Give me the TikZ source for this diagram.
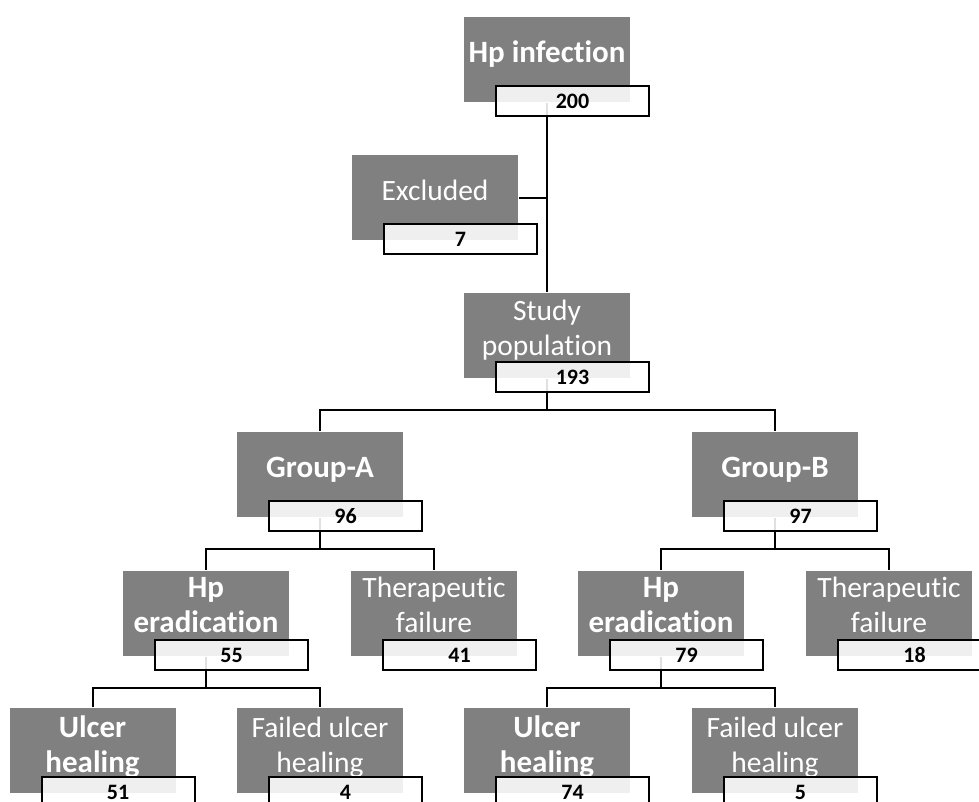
\documentclass[tikz,border=0pt]{standalone}
\usepackage{fontspec}
\setmainfont{Carlito}[Ligatures=NoCommon]
\begin{document}
\begin{tikzpicture}[
        x=1pt,
        y=-1pt,
        line width=2pt
    ]
    \definecolor{boxgray}{RGB}{128,128,128}
    \tikzset{
        graybox/.style = {rectangle, fill=boxgray, anchor=north, minimum width=166pt, minimum height=85pt, inner sep=0pt},
        numbox/.style = {rectangle, draw=black, fill=white, fill opacity=0.88, text opacity=1, anchor=north west, minimum width=153pt, minimum height=30pt, inner sep=0pt, font=\fontsize{22}{24}\selectfont\bfseries},
        lbl/.style = {text=white, align=center, anchor=base, inner sep=0pt, font=\fontsize{29.5}{35}\selectfont},
        lblb/.style = {lbl, font=\fontsize{31}{35}\selectfont\bfseries},
        link/.style = {-, line width=2pt, black},
    }
    \useasboundingbox (0,0) rectangle (979,801);
    \clip (0,0) rectangle (979,801);
    % gray boxes
    \node[graybox] at (547,16) (inf) {};
    \node[graybox] at (435,154) (exc) {};
    \node[graybox] at (547,292) (study) {};
    \node[graybox] at (320,431) (grpA) {};
    \node[graybox] at (775,431) (grpB) {};
    \node[graybox] at (206,570) (eradA) {};
    \node[graybox] at (434,570) (failA) {};
    \node[graybox] at (661,570) (eradB) {};
    \node[graybox] at (889,570) (failB) {};
    \node[graybox] at (92.5,707) (healA) {};
    \node[graybox] at (320,707) (nhealA) {};
    \node[graybox] at (547,707) (healB) {};
    \node[graybox] at (775,707) (nhealB) {};
    % labels (base = last line)
    \node[lblb] at ([yshift=-46.5pt]inf.north) (inf-t) {Hp infection};
    \node[lbl] at ([yshift=-46.5pt]exc.north) (exc-t) {Excluded};
    \node[lbl] at ([yshift=-63pt]study.north) (study-t) {Study\\population};
    \node[lblb] at ([yshift=-46.5pt]grpA.north) (grpA-t) {Group-A};
    \node[lblb] at ([yshift=-46.5pt]grpB.north) (grpB-t) {Group-B};
    \node[lblb] at ([yshift=-62pt]eradA.north) (eradA-t) {Hp\\eradication};
    \node[lbl] at ([yshift=-62pt]failA.north) (failA-t) {Therapeutic\\failure};
    \node[lblb] at ([yshift=-62pt]eradB.north) (eradB-t) {Hp\\eradication};
    \node[lbl] at ([yshift=-62pt]failB.north) (failB-t) {Therapeutic\\failure};
    \node[lblb] at ([yshift=-65pt]healA.north) (healA-t) {Ulcer\\healing};
    \node[lbl] at ([yshift=-65pt]nhealA.north) (nhealA-t) {Failed ulcer\\healing};
    \node[lblb] at ([yshift=-65pt]healB.north) (healB-t) {Ulcer\\healing};
    \node[lbl] at ([yshift=-65pt]nhealB.north) (nhealB-t) {Failed ulcer\\healing};
    % connectors
    \draw[link] (inf.south) -- (study.north);
    \draw[link] (exc.east) -- (exc.east -| inf.south);
    %
    \draw[link] (study.south) -- ++(0,31) coordinate (sj);
    \draw[link] (grpA.north) |- (sj) -| (grpB.north);
    \draw[link] (grpA.south) -- ++(0,31) coordinate (aj);
    \draw[link] (eradA.north) |- (aj) -| (failA.north);
    \draw[link] (grpB.south) -- ++(0,31) coordinate (bj);
    \draw[link] (eradB.north) |- (bj) -| (failB.north);
    %
    \draw[link] (eradA.south) -- ++(0,31) coordinate (ej);
    \draw[link] (healA.north) |- (ej) -| (nhealA.north);
    \draw[link] (eradB.south) -- ++(0,31) coordinate (fj);
    \draw[link] (healB.north) |- (fj) -| (nhealB.north);
    % number boxes
    \node[numbox] at ([shift={(32,-18)}]inf.south west) (inf-n) {200};
    \node[numbox] at ([shift={(32,-18)}]exc.south west) (exc-n) {7};
    \node[numbox] at ([shift={(32,-18)}]study.south west) (study-n) {193};
    \node[numbox] at ([shift={(32,-18)}]grpA.south west) (grpA-n) {96};
    \node[numbox] at ([shift={(32,-18)}]grpB.south west) (grpB-n) {97};
    \node[numbox] at ([shift={(32,-18)}]eradA.south west) (eradA-n) {55};
    \node[numbox] at ([shift={(32,-18)}]failA.south west) (failA-n) {41};
    \node[numbox] at ([shift={(32,-18)}]eradB.south west) (eradB-n) {79};
    \node[numbox] at ([shift={(32,-18)}]failB.south west) (failB-n) {18};
    \node[numbox] at ([shift={(32,-18)}]healA.south west) (healA-n) {51};
    \node[numbox] at ([shift={(32,-18)}]nhealA.south west) (nhealA-n) {4};
    \node[numbox] at ([shift={(32,-18)}]healB.south west) (healB-n) {74};
    \node[numbox] at ([shift={(32,-18)}]nhealB.south west) (nhealB-n) {5};
\end{tikzpicture}
\end{document}
